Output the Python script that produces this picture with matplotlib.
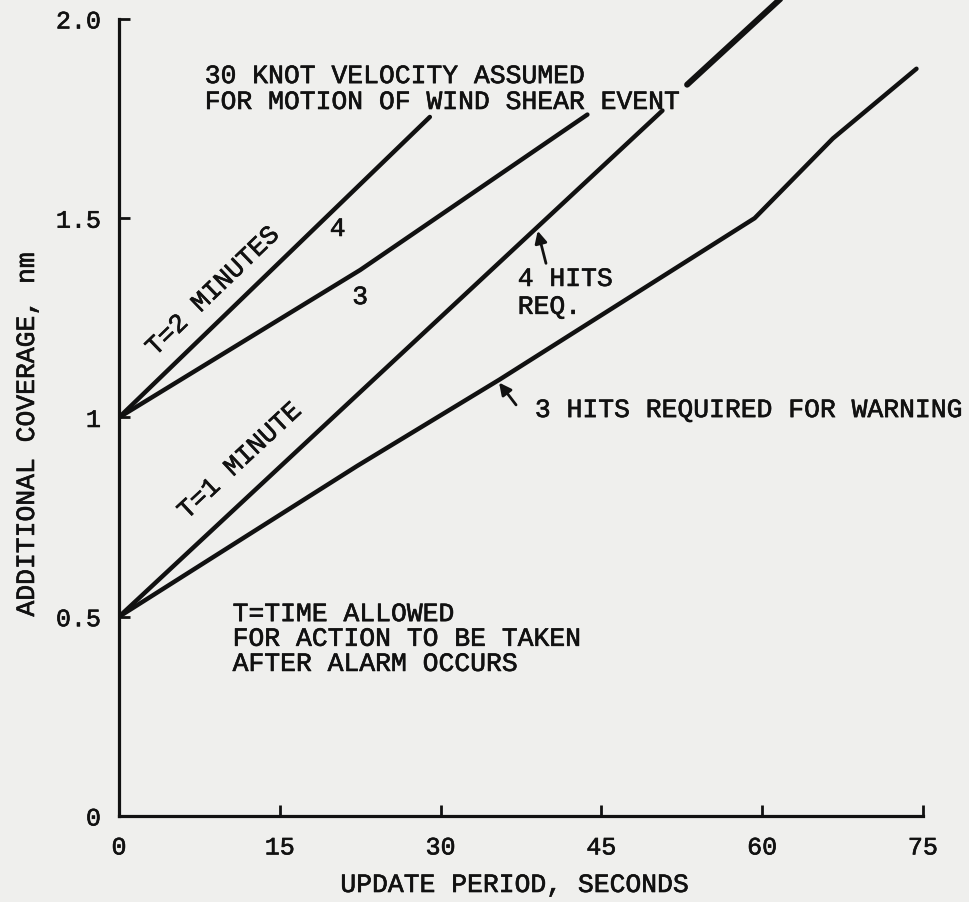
import matplotlib
matplotlib.use("Agg")
import matplotlib.pyplot as plt
import matplotlib.patheffects as pe

# Curves read per warning rule: T = time allowed, n = hits required
t2_hits4_x = [0, 29.0]
t2_hits4_y = [1.0, 1.754]

t2_hits3_x = [0, 22.5, 43.7]
t2_hits3_y = [1.0, 1.37, 1.76]

# T=1 minute, 4 hits: broken where it crosses the note text
t1_hits4_lo_x = [0, 50.7]
t1_hits4_lo_y = [0.5, 1.77]
t1_hits4_hi_x = [53.0, 62.5]
t1_hits4_hi_y = [1.835, 2.07]

t1_hits3_x = [0, 22.2, 35.5, 59.3, 66.6, 74.4]
t1_hits3_y = [0.5, 0.878, 1.095, 1.50, 1.70, 1.875]

x_ticks = [0, 15, 30, 45, 60, 75]
x_labels = ["0", "15", "30", "45", "60", "75"]
y_ticks = [0, 0.5, 1.0, 1.5, 2.0]
y_labels = ["0", "0.5", "1", "1.5", "2.0"]

BG = "#efefed"
INK = "#111111"
FONT = "Liberation Mono"
FS = 19

plt.rcParams["font.family"] = FONT

# typewriter ink is a bit heavier than the plain mono face
heavy = [pe.withStroke(linewidth=0.45, foreground=INK)]

fig = plt.figure(figsize=(9.69, 9.03), dpi=100, facecolor=BG)
ax = fig.add_axes([119 / 969, 86 / 903, 850 / 969, 817 / 903])
ax.set_facecolor(BG)
ax.set_xlim(0, 79.3)
ax.set_ylim(0, 2.05)

for side in ("top", "right"):
    ax.spines[side].set_visible(False)
ax.spines["left"].set_bounds(0, 2.0)
ax.spines["bottom"].set_bounds(0, 75)
for side in ("left", "bottom"):
    ax.spines[side].set_linewidth(2.3)
    ax.spines[side].set_color(INK)

ax.set_xticks(x_ticks)
ax.set_xticklabels(x_labels)
ax.set_yticks(y_ticks)
ax.set_yticklabels(y_labels)
ax.tick_params(axis="both", direction="in", length=8, width=2, color=INK,
               labelsize=18, labelcolor=INK)
ax.tick_params(axis="y", pad=13)
ax.tick_params(axis="x", pad=14)
for lab in ax.get_xticklabels() + ax.get_yticklabels():
    lab.set_path_effects(heavy)

lw = 3.2
kw = dict(color=INK, lw=lw, solid_capstyle="round", solid_joinstyle="round")
ax.plot(t2_hits4_x, t2_hits4_y, **kw)
ax.plot(t2_hits3_x, t2_hits3_y, **kw)
ax.plot(t1_hits4_lo_x, t1_hits4_lo_y, **kw)
ax.plot(t1_hits4_hi_x, t1_hits4_hi_y, color=INK, lw=4.3, solid_capstyle="round")
ax.plot(t1_hits3_x, t1_hits3_y, **kw)

txt = dict(fontsize=FS, color=INK, family=FONT, path_effects=heavy)
ax.text(8.0, 1.839, "30 KNOT VELOCITY ASSUMED", ha="left", va="baseline", **txt)
ax.text(8.0, 1.774, "FOR MOTION OF WIND SHEAR EVENT", ha="left", va="baseline", **txt)

ax.text(37.2, 1.330, "4 HITS", ha="left", va="baseline", **txt)
ax.text(37.2, 1.260, "REQ.", ha="left", va="baseline", **txt)
ax.annotate("", xy=(39.0, 1.475), xytext=(39.9, 1.380),
            arrowprops=dict(arrowstyle="-|>", color=INK, lw=2, mutation_scale=18))

ax.text(38.8, 1.001, "3 HITS REQUIRED FOR WARNING", ha="left", va="baseline", **txt)
ax.annotate("", xy=(35.3, 1.093), xytext=(37.2, 1.026),
            arrowprops=dict(arrowstyle="-|>", color=INK, lw=2, mutation_scale=18))

ax.text(10.6, 0.489, "T=TIME ALLOWED", ha="left", va="baseline", **txt)
ax.text(10.6, 0.427, "FOR ACTION TO BE TAKEN", ha="left", va="baseline", **txt)
ax.text(10.6, 0.364, "AFTER ALARM OCCURS", ha="left", va="baseline", **txt)

ax.text(8.77, 1.317, "T=2 MINUTES", rotation=44, rotation_mode="anchor",
        ha="center", va="center", **txt)
ax.text(11.29, 0.891, "T=1 MINUTE", rotation=43, rotation_mode="anchor",
        ha="center", va="center", **txt)
ax.text(20.4, 1.473, "4", ha="center", va="center", **txt)
ax.text(22.5, 1.302, "3", ha="center", va="center", **txt)

fig.text(27 / 969, 1 - 435 / 903, "ADDITIONAL COVERAGE, nm", rotation=90,
         ha="center", va="center", **txt)
fig.text(515 / 969, 1 - 886 / 903, "UPDATE PERIOD, SECONDS",
         ha="center", va="center", **txt)

fig.savefig("out.png", dpi=100, facecolor=BG)
